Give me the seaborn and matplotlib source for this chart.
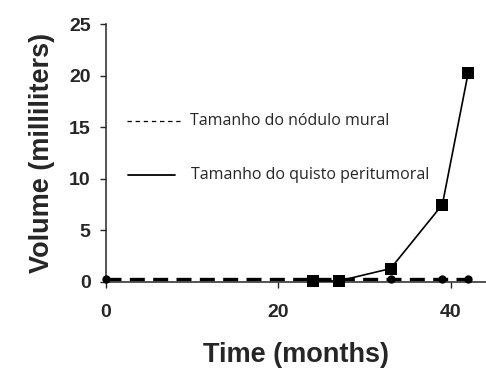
import matplotlib
matplotlib.use("Agg")
import matplotlib.pyplot as plt
import seaborn as sns
import pandas as pd
from matplotlib.lines import Line2D

# Data
cyst_months = [24, 27, 33, 39, 42]
cyst_volume = [0.1, 0.1, 1.3, 7.5, 20.3]
nodule_months = [0, 24, 27, 33, 39, 42]
nodule_volume = [0.3, 0.3, 0.3, 0.3, 0.3, 0.3]
x_ticks = [0, 20, 40]
y_ticks = [0, 5, 10, 15, 20, 25]
legend_labels = ["Tamanho do nódulo mural", "Tamanho do quisto peritumoral"]

sns.set_style("ticks")
plt.rcParams['font.family'] = ['Liberation Sans', 'DejaVu Sans']
plt.rcParams['font.weight'] = 'bold'

fig = plt.figure(figsize=(4.86, 3.72), dpi=100)
ax = fig.add_axes([0.218, 0.242, 0.782, 0.693])

df_n = pd.DataFrame({"t": nodule_months, "v": nodule_volume})
df_c = pd.DataFrame({"t": cyst_months, "v": cyst_volume})

sns.lineplot(data=df_n, x="t", y="v", ax=ax, color="black", linewidth=2.4,
             linestyle=(0, (4.5, 2.5)), marker="o", markersize=6, markeredgewidth=0,
             clip_on=False, zorder=3)
sns.lineplot(data=df_c, x="t", y="v", ax=ax, color="black", linewidth=1.2,
             marker="s", markersize=8.5, markeredgewidth=0, clip_on=False, zorder=4)

ax.set_xlim(0, 44.06)
ax.set_ylim(0, 25)
ax.set_xticks(x_ticks)
ax.set_yticks(y_ticks)
ax.tick_params(axis="y", length=4, width=1, direction="out", pad=7, labelsize=14)
ax.tick_params(axis="x", length=4, width=1, direction="out", pad=12, labelsize=14)
ax.spines["top"].set_visible(False)
ax.spines["right"].set_visible(False)
ax.spines["left"].set_linewidth(1.1)
ax.spines["bottom"].set_linewidth(1.1)
ax.set_xlabel("Time (months)", fontsize=19.5, fontweight="bold", labelpad=15)
ax.set_ylabel("Volume (milliliters)", fontsize=19.5, fontweight="bold", labelpad=10)

# Manual legend
ax.add_line(Line2D([0.055, 0.195], [0.624, 0.624], transform=ax.transAxes,
                   color="black", linewidth=0.9, linestyle=(0, (3.5, 3))))
ax.add_line(Line2D([0.058, 0.182], [0.415, 0.415], transform=ax.transAxes,
                   color="black", linewidth=1.3))
ax.text(0.221, 0.624, legend_labels[0], transform=ax.transAxes, fontsize=11.5,
        va="center", ha="left", fontweight="normal", family=["Open Sans", "DejaVu Sans"])
ax.text(0.224, 0.415, legend_labels[1], transform=ax.transAxes, fontsize=11.5,
        va="center", ha="left", fontweight="normal", family=["Open Sans", "DejaVu Sans"])

fig.savefig("out.png", dpi=100)
